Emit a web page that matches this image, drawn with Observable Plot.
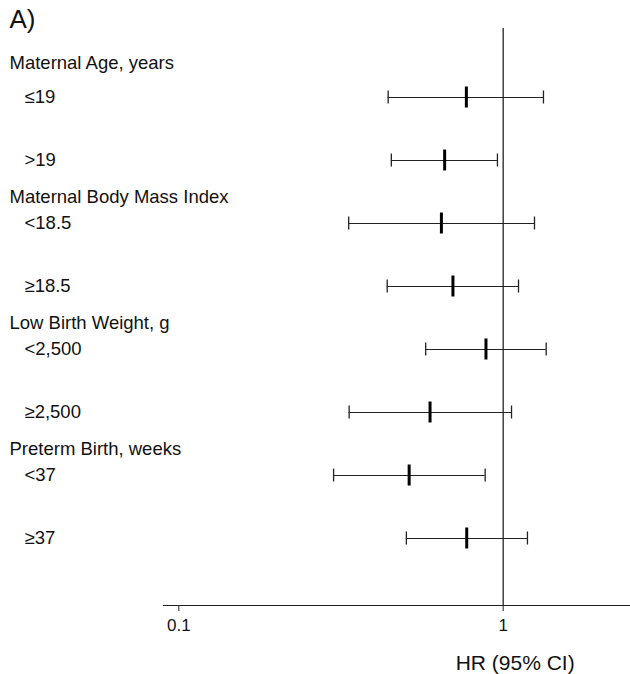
<!DOCTYPE html>
<html>
<head>
<meta charset="utf-8">
<script src="https://cdn.jsdelivr.net/npm/d3@7"></script>
<script src="https://cdn.jsdelivr.net/npm/@observablehq/plot@0.6"></script>
<style>
  html, body { margin: 0; padding: 0; background: #fff; }
  #chart svg { display: block; }
</style>
</head>
<body>
<div id="chart"></div>
<script>
// Subgroup rows (top to bottom)
const rows = ["≤19", ">19", "<18.5", "≥18.5", "<2,500", "≥2,500", "<37", "≥37"];
// Hazard ratios and 95% CI
const hr = [0.77, 0.66, 0.645, 0.70, 0.885, 0.595, 0.513, 0.772];
const lo = [0.442, 0.452, 0.334, 0.439, 0.577, 0.335, 0.300, 0.503];
const hi = [1.331, 0.960, 1.249, 1.115, 1.357, 1.061, 0.880, 1.188];
// Group headers and the first row of each group
const headers = ["Maternal Age, years", "Maternal Body Mass Index", "Low Birth Weight, g", "Preterm Birth, weeks"];
const headerFirstRow = ["≤19", "<18.5", "<2,500", "<37"];
// Axis ticks
const xTicks = [0.1, 1];
const xTickLabels = ["0.1", "1"];
const panelLabel = "A)";
const xTitle = "HR (95% CI)";

const data = rows.map((r, i) => ({row: r, hr: hr[i], lo: lo[i], hi: hi[i]}));
const heads = headers.map((h, i) => ({text: h, row: headerFirstRow[i]}));

const ink = "#222";

const chart = Plot.plot({
  width: 630,
  height: 674,
  marginLeft: 163,
  marginRight: 0,
  marginTop: 28,
  marginBottom: 69,
  style: {fontFamily: "'Liberation Sans', Arial, sans-serif", color: "#111", background: "#fff"},
  x: {type: "log", domain: [0.0897, 2.469]},
  y: {type: "point", domain: rows, range: [93.5, 541], padding: 0, axis: null},
  marks: [
    Plot.frame({anchor: "bottom", stroke: ink, strokeWidth: 1.2}),
    Plot.ruleX([1], {stroke: ink, strokeWidth: 1.3}),
    Plot.axisX({
      ticks: xTicks,
      tickFormat: d => xTickLabels[xTicks.indexOf(d)],
      tickSize: 6,
      tickPadding: 7,
      fontSize: 17,
      label: null,
      stroke: ink
    }),
    Plot.ruleY(data, {y: "row", x1: "lo", x2: "hi", stroke: ink, strokeWidth: 1.2}),
    Plot.ruleX(data, {x: "lo", y1: "row", y2: "row", insetTop: -6.5, insetBottom: -6.5, stroke: ink, strokeWidth: 1.3}),
    Plot.ruleX(data, {x: "hi", y1: "row", y2: "row", insetTop: -6.5, insetBottom: -6.5, stroke: ink, strokeWidth: 1.3}),
    Plot.ruleX(data, {x: "hr", y1: "row", y2: "row", insetTop: -10.5, insetBottom: -10.5, stroke: "#000", strokeWidth: 3}),
    // row labels
    Plot.text(data, {y: "row", text: "row", frameAnchor: "left", dx: -139, textAnchor: "start", fontSize: 18.5, fill: "#111"}),
    // group headers
    Plot.text(heads.slice(0, 1), {y: "row", text: "text", frameAnchor: "left", dx: -154, dy: -34, textAnchor: "start", fontSize: 18.5, fill: "#111"}),
    Plot.text(heads.slice(1), {y: "row", text: "text", frameAnchor: "left", dx: -154, dy: -26, textAnchor: "start", fontSize: 18.5, fill: "#111"}),
    // panel label
    Plot.text([panelLabel], {frameAnchor: "top-left", lineAnchor: "middle", dx: -154, dy: -9, textAnchor: "start", fontSize: 26, fill: "#111"}),
    // x title
    Plot.text([xTitle], {x: 1, frameAnchor: "bottom", lineAnchor: "middle", dx: 12, dy: 58, fontSize: 21, fill: "#111"})
  ]
});
document.getElementById("chart").appendChild(chart);
</script>
</body>
</html>
